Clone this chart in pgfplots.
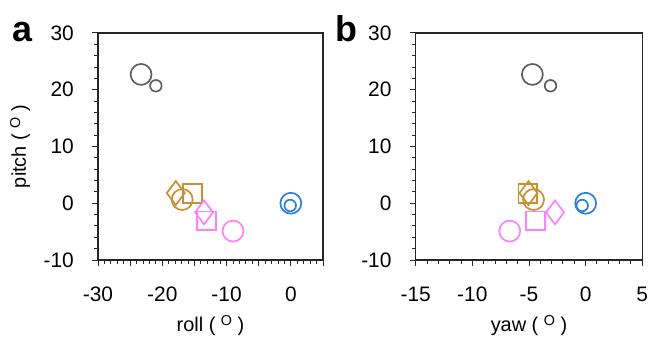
\documentclass[border=0pt]{standalone}
\usepackage{fontspec}
\setmainfont{Liberation Sans}
\usepackage{pgfplots}
\pgfplotsset{compat=1.18}
\definecolor{cgray}{HTML}{5E5E5E}
\definecolor{cgold}{HTML}{C8902E}
\definecolor{cpink}{HTML}{FF80FF}
\definecolor{cblue}{HTML}{2F7FD6}
\newcommand{\degl}{( \raisebox{0.55ex}{\scalebox{0.72}{O}} )}
\pgfplotsset{
  panel/.style={
    scale only axis, height=227bp, anchor=south west,
    ymin=-10, ymax=30, ytick={-10,0,...,30}, yticklabels={-10,0,10,20,30},
    minor y tick num=4, tick align=outside, xtick pos=left, ytick pos=left,
    major tick length=6bp, minor tick length=3.5bp,
    every tick/.style={black!85, line width=1pt},
    axis line style={line width=1.2pt, black!85},
    tick label style={font=\fontsize{21}{21}\selectfont},
    yticklabel style={anchor=east, inner sep=0pt, xshift=-18bp},
    xticklabel style={anchor=north, inner sep=0pt, yshift=-21bp},
    every axis x label/.style={at={(axis description cs:0.5,-0.313)}, anchor=base, font=\fontsize{20}{20}\selectfont},
    every axis y label/.style={at={(axis description cs:-0.32,0.5)}, rotate=90, anchor=base, font=\fontsize{20}{20}\selectfont},
    clip=false,
  },
  big/.style={only marks, mark=o, mark size=10.5, line width=1.7pt},
  small/.style={only marks, mark=o, mark size=5.8, line width=1.7pt},
  dia/.style={only marks, mark=diamond, mark size=12, line width=1.7pt},
  sq/.style={only marks, mark=square, mark size=9.5, line width=1.7pt},
}
\begin{document}
\begin{tikzpicture}
\useasboundingbox (0,0) rectangle (650bp,338bp);
\node[anchor=base west, font=\fontsize{36}{36}\selectfont\bfseries, inner sep=0pt] at (12bp,296bp) {a};
\node[anchor=base west, font=\fontsize{36}{36}\selectfont\bfseries, inner sep=0pt] at (335bp,296bp) {b};
\begin{axis}[panel, at={(98bp,78bp)}, width=225bp,
  xmin=-30, xmax=5, xtick={-30,-25,...,5}, xticklabels={-30,,-20,,-10,,0,},
  minor x tick num=4,
  xlabel={roll \degl}, ylabel={pitch \degl}]
\addplot[big, cgray] coordinates {(-23.3,22.7)};
\addplot[small, cgray] coordinates {(-21.0,20.7)};
\addplot[dia, cgold] coordinates {(-17.9,1.8)};
\addplot[sq, cgold] coordinates {(-15.3,1.7)};
\addplot[big, cgold] coordinates {(-16.9,0.65)};
\addplot[dia, cpink] coordinates {(-13.5,-1.6)};
\addplot[sq, cpink] coordinates {(-13.1,-3.1)};
\addplot[big, cpink] coordinates {(-9.0,-4.9)};
\addplot[big, cblue] coordinates {(0,0)};
\addplot[small, cblue] coordinates {(-0.1,-0.4)};
\end{axis}
\begin{axis}[panel, at={(415.7bp,78bp)}, width=226.6bp,
  xmin=-15, xmax=5, xtick={-15,-10,...,5}, xticklabels={-15,-10,-5,0,5},
  minor x tick num=4,
  xlabel={yaw \degl}]
\addplot[big, cgray] coordinates {(-4.7,22.7)};
\addplot[small, cgray] coordinates {(-3.1,20.7)};
\addplot[dia, cgold] coordinates {(-5.05,1.8)};
\addplot[sq, cgold] coordinates {(-5.1,1.7)};
\addplot[big, cgold] coordinates {(-4.6,0.65)};
\addplot[dia, cpink] coordinates {(-2.7,-1.6)};
\addplot[sq, cpink] coordinates {(-4.4,-3.1)};
\addplot[big, cpink] coordinates {(-6.7,-4.9)};
\addplot[big, cblue] coordinates {(0,0)};
\addplot[small, cblue] coordinates {(-0.3,-0.4)};
\end{axis}
\end{tikzpicture}
\end{document}
